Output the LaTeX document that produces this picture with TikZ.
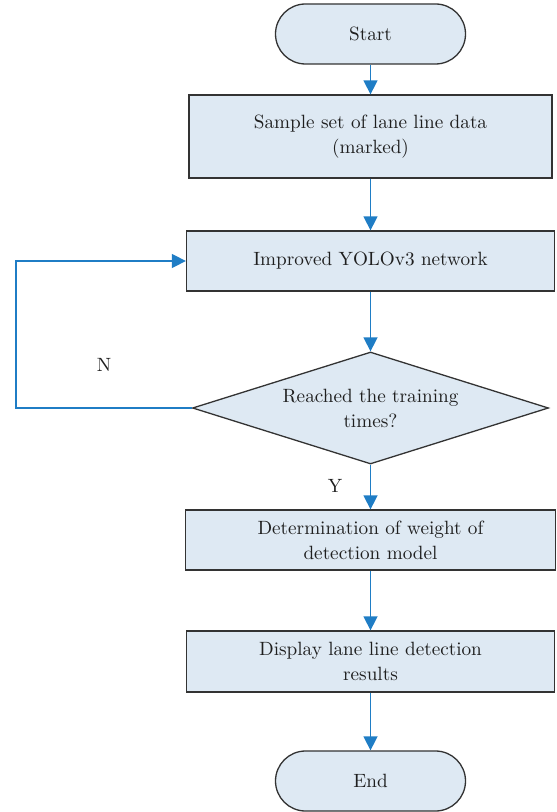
\documentclass[tikz,border=0pt]{standalone}
\usepackage{tikz}
\usetikzlibrary{shapes,arrows,arrows.meta,positioning}
\definecolor{boxfill}{HTML}{DEE9F3}
\definecolor{flowblue}{HTML}{1F7DC5}
\definecolor{edgegray}{HTML}{333333}
\tikzstyle{terminal} = [shape=rectangle, rounded corners=15pt,
		draw=edgegray, fill=boxfill, line width=0.65pt, anchor=center,
		minimum width=95pt, minimum height=30pt, align=center,
		inner sep=0pt]
\tikzstyle{rect} = [shape=rectangle, draw=edgegray, fill=boxfill,
		line width=0.65pt, anchor=center,
		minimum width=184pt, align=center,
		inner sep=0pt]
\tikzstyle{decide} = [shape=diamond, draw=edgegray, fill=boxfill,
		line width=0.65pt, anchor=center, aspect=3.18,
		minimum width=178pt, minimum height=56pt, align=center,
		inner sep=0pt]
\tikzstyle{flow} = [color=flowblue, line width=0.75pt,
		>={Triangle[length=7pt,width=7pt]}, ->]

\begin{document}
\begin{tikzpicture}[x=0.5pt, y=-0.5pt,
		font=\fontsize{9.6}{12.5}\selectfont, text=black!88]
	\useasboundingbox (0,0) rectangle (556,812);
	\node[terminal] (start) at (370.5,34) {Start};
	\node[rect, minimum width=181.5pt, minimum height=41.5pt] (data) at (370.5,136.5) {Sample set of lane line data\\(marked)};
	\node[rect, minimum height=30pt] (train) at (370.5,261) {Improved YOLOv3 network};
	\node[decide] (check) at (370.5,408) {Reached the training\\times?};
	\node[rect, minimum width=185pt, minimum height=30pt] (weight) at (370.5,540) {Determination of weight of\\detection model};
	\node[rect, minimum height=30.5pt] (show) at (370.5,661.5) {Display lane line detection\\results};
	\node[terminal] (end) at (370.5,781) {End};

	\coordinate (back) at (16,408);

	\path [flow] (start) edge (data);
	\path [flow] (data) edge (train);
	\path [flow] (train) edge (check);
	\path [flow] (check) edge (weight);
	\path [flow] (weight) edge (show);
	\path [flow] (show) edge (end);
	\draw [flow] (check.west) -- (back) |- (train.west);

	\node (no) at (104,365) {N};
	\node (yes) at (335,486) {Y};
\end{tikzpicture}
\end{document}
